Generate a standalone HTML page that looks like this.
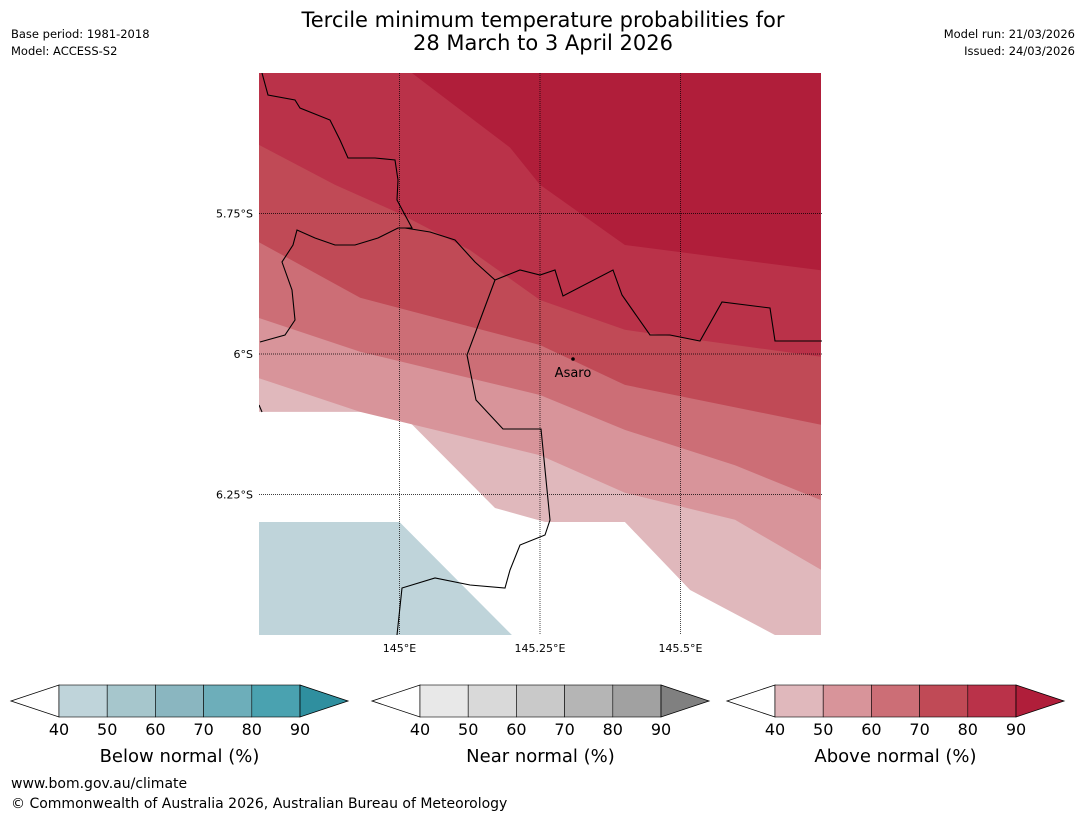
<!DOCTYPE html>
<html><head><meta charset="utf-8"><style>
body{margin:0;background:#fff;font-family:"Liberation Sans","DejaVu Sans",sans-serif}
svg text{font-family:"DejaVu Sans","Liberation Sans",sans-serif}
</style></head><body>
<svg id="c" width="1085" height="816" viewBox="0 0 1085 816" xmlns="http://www.w3.org/2000/svg">
<text x="543" y="27" font-size="21" text-anchor="middle">Tercile minimum temperature probabilities for</text>
<text x="543" y="50" font-size="21" text-anchor="middle">28 March to 3 April 2026</text>
<text x="11" y="38" font-size="11.5">Base period: 1981-2018</text>
<text x="11" y="55" font-size="11.5">Model: ACCESS-S2</text>
<text x="1075" y="38" font-size="11.5" text-anchor="end">Model run: 21/03/2026</text>
<text x="1075" y="55" font-size="11.5" text-anchor="end">Issued: 24/03/2026</text>
<defs><clipPath id="mc"><rect x="259" y="73" width="563" height="562"/></clipPath></defs>
<g id="map" clip-path="url(#mc)"></g>
<g id="bars"></g>
<text x="11" y="788" font-size="14">www.bom.gov.au/climate</text>
<text x="11" y="808" font-size="14">© Commonwealth of Australia 2026, Australian Bureau of Meteorology</text>
</svg>
<script>
// data: contour boundaries as [lon, lat(S)] vertices
const levels=[40,50,60,70,80,90];
const aboveColors=["#e0b8bc","#d8949a","#cc6e76","#c04a56","#ba3249","#b01e3a"];
const b40=[[144.75,6.103],[145.0,6.103],[145.17,6.274],[145.259,6.299],[145.401,6.299],[145.517,6.42],[145.668,6.5],[145.75,6.5]];
const b50=[[144.75,6.043],[144.93,6.103],[145.25,6.18],[145.401,6.247],[145.597,6.295],[145.75,6.384]];
const b60=[[144.75,5.936],[144.93,5.996],[145.25,6.073],[145.401,6.135],[145.597,6.198],[145.75,6.26]];
const b70=[[144.75,5.801],[144.93,5.9],[145.25,5.984],[145.401,6.055],[145.75,6.126]];
const b80=[[144.75,5.628],[144.885,5.699],[145.0,5.75],[145.125,5.815],[145.25,5.904],[145.401,5.957],[145.75,6.005]];
const b90=[[145.022,5.5],[145.197,5.633],[145.25,5.699],[145.401,5.806],[145.75,5.851]];
const belowRegion=[[144.75,6.299],[145.0,6.299],[145.2,6.5],[144.75,6.5]];
const lonTicks=[145.0,145.25,145.5], lonLabels=["145°E","145.25°E","145.5°E"];
const latTicks=[5.75,6.0,6.25], latLabels=["5.75°S","6°S","6.25°S"];
const cbTicks=["40","50","60","70","80","90"];
const belowColors=["#bfd4da","#a6c6cc","#8ab6c0","#6daeba","#4aa2b0","#2f8f9f"];
const nearColors=["#e8e8e8","#d9d9d9","#c9c9c9","#b5b5b5","#a1a1a1","#808080"];

const X=lon=>259+(lon-144.75)*562, Y=lat=>73+(lat-5.5)*562;
const NS="http://www.w3.org/2000/svg";
function mk(t,a,p){const e=document.createElementNS(NS,t);for(const k in a)e.setAttribute(k,a[k]);p.appendChild(e);return e;}
const map=document.getElementById('map');
const pts=a=>a.map(p=>X(p[0]).toFixed(1)+','+Y(p[1]).toFixed(1)).join(' ');
const bounds=[b40,b50,b60,b70,b80,b90];
bounds.forEach((b,i)=>{
  const poly=b.concat([[145.75,5.5],[144.75,5.5]]);
  const el=mk('polygon',{points:pts(poly),fill:aboveColors[i]},map);
  
  
});
const bl=mk('polygon',{points:pts(belowRegion),fill:belowColors[0]},map);


const border1="M262,73 L268,95 L295,100 L300,108 L330,120 L340,140 L348,158 L375,158 L395,160 L398,180 L397,200 L405,215 L412,228 L398,228 L378,238 L355,245 L335,245 L315,238 L297,230 L293,245 L282,262 L292,290 L295,320 L285,335 L260,342 M405,228 L430,232 L455,240 L475,262 L495,280 L520,270 L540,275 L555,270 L563,296 L613,270 L622,295 L650,335 L670,335 L700,341 L722,302 L770,308 L775,341 L822,341 M259,405 L262,412";
const border2="M495,280 L467,355 L476,400 L503,429 L541,429 L550,520 L545,535 L520,545 L510,570 L505,588 L470,585 L435,578 L402,588 L397,635";
const p1=mk('path',{d:border1,fill:'none',stroke:'#000','stroke-width':1.1},map);


const p2=mk('path',{d:border2,fill:'none',stroke:'#000','stroke-width':1.1},map);


const svg=document.getElementById('c');
lonTicks.forEach((v,i)=>{
  const l=mk('line',{x1:X(v),x2:X(v),y1:73,y2:635,stroke:'#000','stroke-width':0.7,'stroke-dasharray':'1,1'},svg);
  
  
  const t=mk('text',{x:X(v),y:652,'font-size':11,'text-anchor':'middle'},svg);t.textContent=lonLabels[i];
  
  
});
latTicks.forEach((v,i)=>{
  const l=mk('line',{x1:259,x2:822,y1:Y(v),y2:Y(v),stroke:'#000','stroke-width':0.7,'stroke-dasharray':'1,1'},svg);
  
  
  const t=mk('text',{x:253,y:Y(v)+4,'font-size':11,'text-anchor':'end'},svg);t.textContent=latLabels[i];
  
  
});
const dot=mk('circle',{cx:573,cy:359,r:1.8,fill:'#000'},svg);


const at=mk('text',{x:573,y:377,'font-size':13,'text-anchor':'middle'},svg);at.textContent="Asaro";


const bars=[[11,belowColors,"Below normal (%)"],[372,nearColors,"Near normal (%)"],[727,aboveColors,"Above normal (%)"]];
const g=document.getElementById('bars');
bars.forEach(([x0,cols,title],bi)=>{
  const y0=685,h=32,tw=48,bw=48.2;
  const bx=x0+tw;
  const gr=mk('g',{},g);
  
  
  mk('polygon',{points:`${x0},${y0+h/2} ${bx},${y0} ${bx},${y0+h}`,fill:'#fff',stroke:'#000','stroke-width':0.8},gr);
  for(let i=0;i<5;i++) mk('rect',{x:bx+i*bw,y:y0,width:bw,height:h,fill:cols[i],stroke:'#000','stroke-width':0.6},gr);
  const ex=bx+5*bw;
  mk('polygon',{points:`${ex},${y0} ${ex+tw},${y0+h/2} ${ex},${y0+h}`,fill:cols[5],stroke:'#000','stroke-width':0.8},gr);
  cbTicks.forEach((t,i)=>{const e=mk('text',{x:bx+i*bw,y:735,'font-size':16,'text-anchor':'middle'},gr);e.textContent=t;});
  const tt=mk('text',{x:bx+2.5*bw,y:762,'font-size':18,'text-anchor':'middle'},gr);tt.textContent=title;
});
</script>
</body></html>
